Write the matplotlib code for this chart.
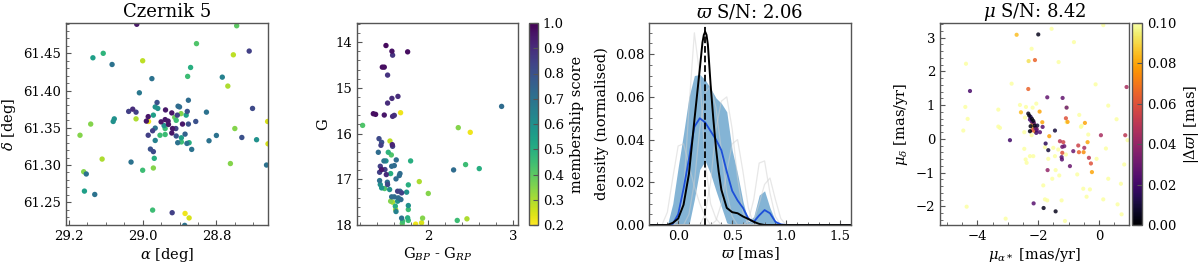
import matplotlib
import numpy as np

matplotlib.use("Agg")
import matplotlib.pyplot as plt  # noqa: E402
from matplotlib.colors import Normalize  # noqa: E402
from matplotlib.cm import ScalarMappable  # noqa: E402
from matplotlib.ticker import AutoMinorLocator, FormatStrFormatter  # noqa: E402

# --- panel 1: sky positions of candidate members ---
ra = [29.016, 28.745, 28.854, 28.711, 29.135, 29.107, 29.083, 29.000, 28.754, 28.870,
      28.878, 28.784, 28.975, 29.009, 28.769, 28.702, 28.827, 28.856, 28.961, 28.876,
      29.027, 29.038, 29.018, 28.966, 28.959, 28.938, 28.904, 28.900, 28.879, 29.077,
      29.080, 29.141, 29.170, 29.018, 28.985, 28.971, 28.990, 28.984, 28.950, 28.939,
      28.931, 28.921, 28.913, 28.909, 28.896, 28.882, 28.906, 28.892, 28.930, 28.919,
      28.910, 28.942, 28.939, 28.966, 28.973, 28.985, 28.921, 28.953, 28.939, 28.966,
      28.909, 28.885, 28.876, 28.895, 28.895, 28.874, 28.905, 28.880, 28.867, 28.979,
      28.971, 28.800, 28.820, 28.750, 28.731, 28.691, 28.661, 28.660, 29.110, 29.0315,
      28.9685, 29.000, 28.971, 28.762, 28.664, 29.160, 29.153, 29.158, 29.130, 28.973,
      28.920, 28.885, 28.874, 28.886]
dec = [61.489, 61.487, 61.463, 61.453, 61.444, 61.450, 61.435, 61.440, 61.448, 61.431,
       61.419, 61.418, 61.416, 61.397, 61.406, 61.376, 61.371, 61.3585, 61.384, 61.387,
       61.375, 61.372, 61.371, 61.378, 61.376, 61.374, 61.379, 61.378, 61.372, 61.362,
       61.3585, 61.355, 61.340, 61.362, 61.365, 61.367, 61.359, 61.3585, 61.358, 61.361,
       61.359, 61.370, 61.364, 61.360, 61.369, 61.367, 61.367, 61.355, 61.3545, 61.349,
       61.349, 61.353, 61.349, 61.3496, 61.346, 61.340, 61.343, 61.340, 61.341, 61.333,
       61.339, 61.3415, 61.355, 61.3366, 61.331, 61.330, 61.330, 61.329, 61.321, 61.3214,
       61.318, 61.3397, 61.3326, 61.349, 61.337, 61.334, 61.3585, 61.3285, 61.308, 61.304,
       61.309, 61.293, 61.296, 61.302, 61.300, 61.291, 61.288, 61.265, 61.2605, 61.2395,
       61.236, 61.235, 61.229, 61.219]
sky_memb = [0.95, 0.40, 0.42, 0.85, 0.55, 0.48, 0.70, 0.28, 0.28, 0.50,
            0.45, 0.65, 0.70, 0.68, 0.30, 0.82, 0.70, 0.80, 0.80, 0.72,
            0.90, 0.85, 0.85, 0.60, 0.60, 0.95, 0.72, 0.72, 0.80, 0.60,
            0.60, 0.35, 0.35, 0.30, 0.95, 0.55, 0.95, 0.22, 0.95, 0.95,
            0.95, 0.95, 0.38, 0.45, 0.35, 0.55, 0.85, 0.95, 0.95, 0.95,
            0.85, 0.60, 0.45, 0.70, 0.85, 0.85, 0.95, 0.45, 0.45, 0.65,
            0.80, 0.75, 0.80, 0.55, 0.45, 0.50, 0.70, 0.70, 0.70, 0.80,
            0.82, 0.70, 0.70, 0.35, 0.80, 0.60, 0.25, 0.25, 0.30, 0.70,
            0.50, 0.45, 0.35, 0.35, 0.70, 0.35, 0.70, 0.55, 0.70, 0.45,
            0.85, 0.22, 0.25, 0.70]

# --- panel 2: colour-magnitude diagram ---
bp_rp = [1.506, 1.576, 1.584, 1.761, 1.463, 1.486, 1.525, 1.576, 1.647, 1.525,
         1.357, 1.384, 1.486, 1.584, 1.604, 1.678, 2.867, 1.231, 2.357, 2.498,
         1.424, 1.455, 1.447, 1.553, 1.580, 1.584, 1.416, 1.533, 1.569, 1.627,
         1.482, 1.506, 1.796, 1.439, 1.455, 1.431, 1.494, 1.510, 1.573, 1.604,
         1.561, 1.671, 1.663, 1.624, 1.431, 1.522, 1.525, 1.439, 1.455, 1.490,
         1.549, 1.769, 1.898, 2.004, 2.302, 2.443, 2.604, 1.643, 1.671, 1.690,
         1.749, 1.573, 1.604, 1.651, 1.561, 1.584, 1.643, 1.682, 1.616, 1.620,
         1.624, 1.769, 1.769, 1.690, 1.702, 1.761, 1.769, 1.698, 1.855, 1.937,
         1.925, 2.345, 2.459]
g_mag = [14.073, 14.197, 14.284, 14.211, 14.546, 14.546, 14.72, 15.23, 15.186, 15.332,
         15.565, 15.579, 15.594, 15.623, 15.601, 15.543, 15.405, 15.82, 15.87, 15.972,
         16.111, 16.191, 16.256, 16.162, 16.242, 16.278, 16.409, 16.409, 16.467, 16.576,
         16.598, 16.598, 16.598, 16.715, 16.787, 16.846, 16.787, 16.897, 16.715, 16.70,
         16.875, 16.875, 16.918, 16.991, 17.028, 17.064, 17.115, 17.115, 17.188, 17.202,
         17.224, 17.122, 17.05, 17.31, 16.795, 16.678, 16.766, 17.261, 17.261, 17.297,
         17.282, 17.384, 17.384, 17.406, 17.479, 17.501, 17.479, 17.443, 17.588, 17.661,
         17.705, 17.574, 17.661, 17.85, 17.916, 17.843, 17.90, 17.967, 17.981, 17.85,
         17.952, 17.90, 17.865]
cmd_memb = [0.98, 0.96, 0.88, 0.97, 0.97, 0.97, 0.88, 0.90, 0.90, 0.90,
            0.97, 0.97, 0.95, 0.90, 0.88, 0.22, 0.72, 0.42, 0.35, 0.22,
            0.82, 0.80, 0.85, 0.28, 0.92, 0.85, 0.72, 0.48, 0.42, 0.72,
            0.68, 0.60, 0.50, 0.85, 0.95, 0.85, 0.85, 0.90, 0.72, 0.72,
            0.50, 0.72, 0.72, 0.72, 0.70, 0.72, 0.82, 0.60, 0.58, 0.42,
            0.60, 0.50, 0.30, 0.35, 0.72, 0.45, 0.50, 0.85, 0.72, 0.85,
            0.60, 0.72, 0.72, 0.72, 0.35, 0.30, 0.60, 0.72, 0.50, 0.30,
            0.65, 0.60, 0.45, 0.70, 0.45, 0.50, 0.45, 0.40, 0.22, 0.35,
            0.25, 0.45, 0.30]

# --- panel 3: parallax densities ---
plx_grid = [-0.27, -0.15, -0.10, -0.05, 0.00, 0.05, 0.10, 0.15, 0.20, 0.25, 0.30, 0.35, 0.40,
            0.45, 0.50, 0.55, 0.60, 0.65, 0.70, 0.75, 0.80, 0.85, 0.90, 0.95, 1.00, 1.60]
dens_hi = [0, 0, 0.0, 0.010, 0.027, 0.043, 0.060, 0.070, 0.0705, 0.068, 0.064, 0.0595, 0.057,
           0.053, 0.035, 0.024, 0.011, 0.0015, 0.004, 0.014, 0.016, 0.008, 0.002, 0, 0, 0]
dens_lo = [0, 0, 0, 0, 0, 0, 0, 0.012, 0.026, 0.030, 0.024, 0.016, 0.0085,
           0.001, 0, 0, 0, 0, 0, 0, 0, 0, 0, 0, 0, 0]
dens_med = [0, 0, 0, 0.0005, 0.005, 0.017, 0.031, 0.046, 0.050, 0.048, 0.0440, 0.040, 0.035,
            0.025, 0.016, 0.0115, 0.008, 0.003, 0.0015, 0.0045, 0.007, 0.0055, 0.0015, 0.0003, 0, 0]
plx_best = [-0.27, -0.10, -0.05, 0.00, 0.05, 0.10, 0.15, 0.20, 0.225, 0.2375, 0.25, 0.2625,
            0.275, 0.30, 0.325, 0.35, 0.375, 0.40, 0.45, 0.50, 0.55, 0.60, 0.65, 0.70, 0.75,
            0.80, 1.60]
dens_best = [0, 0, 0.001, 0.003, 0.0095, 0.024, 0.049, 0.073, 0.0855, 0.089, 0.0905, 0.089,
             0.0845, 0.066, 0.050, 0.036, 0.025, 0.0165, 0.008, 0.006, 0.0055, 0.004, 0.0028,
             0.0015, 0.0005, 0, 0]
dens_draws = [
    [0, 0, 0, 0, 0.002, 0.015, 0.055, 0.090, 0.070, 0.030, 0.010, 0.003, 0,
     0, 0, 0, 0, 0, 0, 0, 0, 0, 0, 0, 0, 0],
    [0, 0, 0.006, 0.022, 0.037, 0.038, 0.028, 0.018, 0.010, 0.004, 0, 0, 0,
     0, 0, 0, 0, 0, 0, 0, 0, 0, 0, 0, 0, 0],
    [0, 0, 0, 0, 0, 0, 0.005, 0.020, 0.045, 0.062, 0.065, 0.055, 0.035,
     0.015, 0.004, 0, 0, 0, 0, 0, 0, 0, 0, 0, 0, 0],
    [0, 0, 0, 0, 0, 0, 0, 0, 0, 0.005, 0.020, 0.045, 0.058,
     0.060, 0.045, 0.022, 0.006, 0, 0, 0, 0, 0, 0, 0, 0, 0],
    [0, 0, 0, 0, 0, 0, 0, 0, 0, 0, 0, 0.002, 0.010,
     0.025, 0.038, 0.040, 0.025, 0.008, 0, 0, 0, 0, 0, 0, 0, 0],
    [0, 0, 0, 0, 0, 0, 0, 0, 0, 0, 0, 0, 0,
     0, 0, 0, 0, 0.002, 0.012, 0.029, 0.030, 0.015, 0.004, 0, 0, 0],
    [0, 0, 0, 0, 0, 0, 0, 0, 0, 0, 0, 0, 0,
     0, 0, 0, 0, 0, 0.002, 0.010, 0.019, 0.022, 0.012, 0.003, 0, 0],
]
plx_mode = 0.25

# --- panel 4: proper motions, coloured by parallax offset ---
pmra = [0.143, -1.557, -0.822, -2.215, -1.327, -4.375, -2.873, -0.110, 0.307, -4.397,
        -3.311, -2.599, -2.401, -2.182, -2.061, -1.064, -0.647, 0.581, -4.320, -3.311,
        -0.570, -2.434, -1.064, -0.592, -0.351, 0.943, 0.230, 0.833, -4.463, -3.257,
        -2.456, -2.215, -1.776, -1.502, -1.338, -1.447, -1.086, -2.456, -2.270, -2.160,
        -2.412, -2.379, -1.667, -1.425, -1.535, -1.305, -0.713, -0.077, 0.307, 0.724,
        -0.515, -0.296, -0.406, 0.143, 0.614, 0.746, -1.831, -1.776, -1.700, -1.228,
        -1.118, -3.070, -4.353,
        -2.708, -1.996, -2.314, -2.105, 0.910, -4.243, -2.325, -1.700, -1.195, -1.064,
        -2.566, -1.952, -1.086, -1.031, -0.461, -1.864, -2.050, -1.853, -1.941, -1.447,
        -2.270, -1.634, 0.066, 0.866, -2.928, -1.754, -1.667, -1.283, -1.173, -1.140,
        -1.206, -1.206, -1.228, -1.217, -0.844, -0.680, -0.658, -0.504, -0.482, -0.373,
        -0.329, -0.263, -0.230, -0.954, -1.689, -2.149, -1.820, -1.425,
        -2.325, -2.292, -2.248, -2.270, -2.204, -2.215, -2.160, -2.182, -2.138, -2.116,
        -2.160, -2.094, -2.248, -2.050, -2.116, -2.029, -2.193, -2.061]
pmdec = [3.366, 3.258, 2.864, 2.667, 2.274, 2.224, 1.634, 1.614, 0.984, 0.945,
         0.866, 1.004, 0.945, 0.925, 1.043, 0.925, 0.709, 0.581, 0.591, 0.364,
         0.384, 0.630, 0.492, 0.354, 0.128, -0.039, -0.285, -0.758, 0.246, 0.325,
         0.197, 0.108, -0.246, -0.266, -0.315, -0.512, -0.463, -0.295, -0.512, -0.512,
         -0.610, -0.709, -0.591, -0.925, -1.181, -1.083, -1.053, -0.591, -1.181, -1.329,
         -1.476, -1.496, -1.713, -1.791, -1.939, -2.234, -1.378, -1.791, -1.821, -1.821,
         -2.431, -2.362, -2.008,
         3.081, 3.091, 2.303, 2.333, 1.535, 1.417, 1.476, 1.230, 1.211, 0.925,
         0.787, 0.807, 0.610, 0.502, 0.472, 0.492, 0.295, 0.354, 0.197, 0.246,
         0.226, 0.079, 0.108, 0.108, -0.039, -0.138, -0.335, -0.069, -0.098, -0.217,
         -0.236, -0.413, -0.541, -0.610, -0.364, -0.197, -0.394, -0.394, -0.266, -0.098,
         -0.561, -0.728, -0.984, -0.807, -0.925, -1.910, -2.047, -2.146,
         0.748, 0.689, 0.650, 0.571, 0.591, 0.512, 0.531, 0.453, 0.472, 0.394,
         0.335, 0.325, 0.374, 0.256, 0.226, 0.394, 0.256, 0.177]
d_plx = [0.1] * 63 + [
    0.085, 0.005, 0.092, 0.065, 0.045, 0.022, 0.065, 0.028, 0.028, 0.030,
    0.085, 0.080, 0.060, 0.080, 0.080, 0.080, 0.045, 0.025, 0.025, 0.010,
    0.003, 0.080, 0.045, 0.050, 0.020, 0.015, 0.010, 0.050, 0.055, 0.030,
    0.030, 0.060, 0.025, 0.025, 0.030, 0.055, 0.065, 0.075, 0.045, 0.080,
    0.050, 0.060, 0.080, 0.030, 0.040, 0.025, 0.005, 0.005,
    0.005, 0.005, 0.015, 0.020, 0.005, 0.025, 0.005, 0.080, 0.030, 0.005,
    0.085, 0.030, 0.003, 0.025, 0.080, 0.010, 0.060, 0.020]

plt.rcParams.update({
    "font.family": ["DejaVu Serif"],
    "mathtext.fontset": "dejavuserif",
    "font.size": 10.5,
    "axes.edgecolor": "#555555",
    "axes.linewidth": 1.0,
    "xtick.direction": "in",
    "ytick.direction": "in",
    "xtick.minor.visible": True,
    "ytick.minor.visible": True,
    "xtick.major.size": 3.5,
    "ytick.major.size": 3.5,
    "xtick.minor.size": 2,
    "ytick.minor.size": 2,
    "xtick.color": "#555555",
    "ytick.color": "#555555",
    "xtick.labelcolor": "black",
    "ytick.labelcolor": "black",
    "xtick.labelsize": 9.5,
    "ytick.labelsize": 9.5,
})

W, H = 1200, 266
fig = plt.figure(figsize=(12, 2.66), dpi=100)


def box(left, right, top=23, bottom=225):
    return [left / W, (H - bottom) / H, (right - left) / W, (bottom - top) / H]


ax1 = fig.add_axes(box(66, 268))
ax2 = fig.add_axes(box(357, 518))
cax2 = fig.add_axes(box(529, 538))
ax3 = fig.add_axes(box(649, 851))
ax4 = fig.add_axes(box(940, 1129))
cax4 = fig.add_axes(box(1132, 1142))

memb_norm = Normalize(0.2, 1.0)

order = np.argsort(sky_memb)
ax1.scatter(np.array(ra)[order], np.array(dec)[order], c=np.array(sky_memb)[order],
            cmap="viridis_r", norm=memb_norm, s=15, linewidths=0)
ax1.set_xlim(29.208, 28.66)
ax1.set_ylim(61.2195, 61.4907)
ax1.set_xticks([29.2, 29.0, 28.8])
ax1.set_yticks([61.25, 61.30, 61.35, 61.40, 61.45])
ax1.set_xlabel(r"$\alpha$ [deg]", labelpad=2)
ax1.set_ylabel(r"$\delta$ [deg]", labelpad=4)
ax1.set_title("Czernik 5", fontsize=13, pad=4)

order = np.argsort(cmd_memb)
ax2.scatter(np.array(bp_rp)[order], np.array(g_mag)[order], c=np.array(cmd_memb)[order],
            cmap="viridis_r", norm=memb_norm, s=15, linewidths=0)
ax2.set_xlim(1.165, 3.06)
ax2.set_ylim(18.0, 13.58)
ax2.set_xticks([2, 3])
ax2.set_yticks([14, 15, 16, 17, 18])
ax2.set_xlabel(r"G$_{BP}$ - G$_{RP}$", labelpad=2)
ax2.set_ylabel("G", labelpad=4)
cb2 = fig.colorbar(ScalarMappable(norm=memb_norm, cmap="viridis_r"), cax=cax2)
cb2.set_ticks([0.2, 0.3, 0.4, 0.5, 0.6, 0.7, 0.8, 0.9, 1.0])
cb2.ax.yaxis.set_major_formatter(FormatStrFormatter("%.1f"))
cb2.ax.minorticks_off()
cb2.outline.set_edgecolor("#555555")
cb2.set_label("membership score", labelpad=4)

for curve in dens_draws:
    ax3.plot(plx_grid, curve, color="#d0d0d0", alpha=0.5, linewidth=0.9)
ax3.fill_between(plx_grid, dens_lo, dens_hi, color="#1f77b4", alpha=0.55, linewidth=0)
ax3.plot(plx_grid, dens_med, color="#1d4fd8", linewidth=1.3)
ax3.plot(plx_best, dens_best, color="black", linewidth=1.4)
ax3.axvline(plx_mode, color="black", linestyle="--", linewidth=1.3)
ax3.set_xlim(-0.27, 1.6)
ax3.set_ylim(0, 0.0946)
ax3.set_xticks([0.0, 0.5, 1.0, 1.5])
ax3.set_yticks([0.0, 0.02, 0.04, 0.06, 0.08])
ax3.yaxis.set_major_formatter(FormatStrFormatter("%.2f"))
ax3.xaxis.set_major_formatter(FormatStrFormatter("%.1f"))
ax3.set_xlabel(r"$\varpi$ [mas]", labelpad=2)
ax3.set_ylabel("density (normalised)", labelpad=4)
ax3.set_title(r"$\varpi$ S/N: 2.06", fontsize=13, pad=4)

plx_norm = Normalize(0.0, 0.1)
order = np.argsort(d_plx)[::-1]
ax4.scatter(np.array(pmra)[order], np.array(pmdec)[order], c=np.array(d_plx)[order],
            cmap="inferno", norm=plx_norm, s=9, linewidths=0, alpha=0.85)
ax4.set_xlim(-5.23, 0.99)
ax4.set_ylim(-2.55, 3.43)
ax4.set_xticks([-4, -2, 0])
ax4.set_yticks([-2, -1, 0, 1, 2, 3])
ax4.set_xlabel(r"$\mu_{\alpha*}$ [mas/yr]", labelpad=2)
ax4.set_ylabel(r"$\mu_\delta$ [mas/yr]", labelpad=4)
ax4.set_title(r"$\mu$ S/N: 8.42", fontsize=13, pad=4)
cb4 = fig.colorbar(ScalarMappable(norm=plx_norm, cmap="inferno"), cax=cax4)
cb4.set_ticks([0.0, 0.02, 0.04, 0.06, 0.08, 0.10])
cb4.ax.yaxis.set_major_formatter(FormatStrFormatter("%.2f"))
cb4.ax.minorticks_off()
cb4.outline.set_edgecolor("#555555")
cb4.set_label(r"$|\Delta\varpi|$ [mas]", labelpad=4)

for ax in (ax1, ax2, ax3, ax4):
    ax.xaxis.set_minor_locator(AutoMinorLocator())
    ax.yaxis.set_minor_locator(AutoMinorLocator())

fig.savefig("out.png", dpi=100)
